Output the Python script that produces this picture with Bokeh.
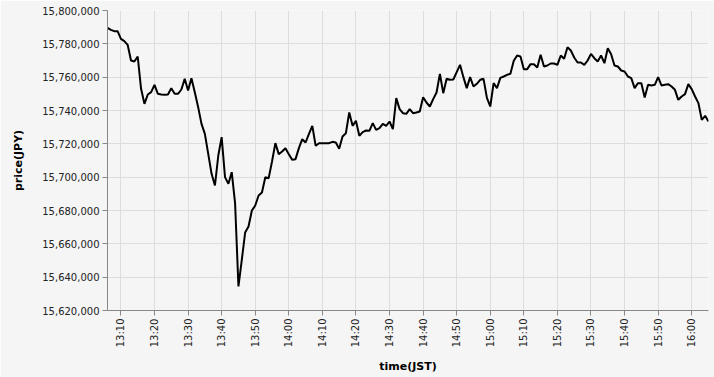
import math
import pandas as pd
from bokeh.plotting import figure
from bokeh.models import (ColumnDataSource, FixedTicker, DatetimeTickFormatter,
                          NumeralTickFormatter, Range1d)
from bokeh.embed import file_html
from bokeh.resources import INLINE

start_time = "2024-01-01 13:06"
prices = [
    15789600, 15788400, 15787600, 15787600, 15783000, 15781600, 15779400, 15770000, 15769400, 15772400,
    15753000, 15744000, 15749600, 15751000, 15755400, 15750000, 15749600, 15749400, 15749600, 15753400,
    15750000, 15750000, 15752600, 15759000, 15752000, 15759400, 15751000, 15742000, 15732000, 15726000,
    15714000, 15702000, 15695000, 15713000, 15724000, 15700000, 15696000, 15703000, 15684400, 15634400,
    15650400, 15666800, 15670400, 15680000, 15683000, 15689000, 15690800, 15700000, 15699400, 15709400,
    15720400, 15713800, 15715400, 15717400, 15713800, 15710400, 15710800, 15717400, 15722800, 15720800,
    15726000, 15730800, 15718800, 15720400, 15720400, 15720400, 15720400, 15721200, 15720800, 15717000,
    15724400, 15726400, 15738800, 15730800, 15733800, 15724800, 15727000, 15728000, 15727800, 15732400,
    15728400, 15729400, 15732000, 15730800, 15733400, 15728800, 15747400, 15740800, 15738400, 15738000,
    15740800, 15738400, 15738800, 15739400, 15748000, 15744800, 15742400, 15746800, 15750800, 15762000,
    15750400, 15759000, 15758400, 15758600, 15763000, 15767400, 15760000, 15753400, 15760000, 15754400,
    15756000, 15758400, 15759000, 15747600, 15742400, 15756400, 15753400, 15759600, 15760400, 15761400,
    15762000, 15769800, 15773000, 15772400, 15764800, 15764800, 15767800, 15767800, 15765800, 15773400,
    15766400, 15767000, 15768200, 15768200, 15767400, 15773000, 15771000, 15778000, 15776000, 15771800,
    15768800, 15768800, 15767400, 15770000, 15774000, 15771400, 15769400, 15773000, 15768400, 15777400,
    15773800, 15767000, 15766400, 15764000, 15763400, 15760400, 15759400, 15753400, 15756400, 15756400,
    15747800, 15755400, 15755000, 15755400, 15760000, 15755000, 15755400, 15755800, 15754400, 15752400,
    15746400, 15748400, 15749800, 15755800, 15752800, 15748400, 15744400, 15734400, 15736800, 15733400,
]
times = pd.date_range(start_time, periods=len(prices), freq="1min")
x_tick_labels = ["13:10", "13:20", "13:30", "13:40", "13:50", "14:00", "14:10", "14:20", "14:30",
                 "14:40", "14:50", "15:00", "15:10", "15:20", "15:30", "15:40", "15:50", "16:00"]
y_ticks = [15620000, 15640000, 15660000, 15680000, 15700000, 15720000, 15740000, 15760000, 15780000, 15800000]

src = ColumnDataSource(dict(t=times, price=prices))

BG = "#f5f5f5"
p = figure(width=714, height=377, output_backend="svg", toolbar_location=None,
           x_axis_type="datetime",
           min_border_left=107, min_border_right=6, min_border_top=10, min_border_bottom=67,
           background_fill_color=BG, border_fill_color=BG)
p.outline_line_color = None

p.x_range = Range1d(times[0], times[-1])
p.y_range = Range1d(y_ticks[0], y_ticks[-1])

p.line("t", "price", source=src, line_color="black", line_width=2)

day = "2024-01-01 "
tick_ms = [pd.Timestamp(day + s).value // 10**6 for s in x_tick_labels]
p.xaxis.ticker = FixedTicker(ticks=tick_ms)
p.xaxis.formatter = DatetimeTickFormatter(minutes="%H:%M", hourmin="%H:%M", hours="%H:%M")
p.xaxis.major_label_orientation = math.pi / 2
p.yaxis.ticker = FixedTicker(ticks=y_ticks)
p.yaxis.formatter = NumeralTickFormatter(format="0,0")

for ax in (p.xaxis[0], p.yaxis[0]):
    ax.axis_line_color = "#888888"
    ax.major_tick_line_color = "#888888"
    ax.major_tick_out = 5
    ax.major_tick_in = 0
    ax.minor_tick_line_color = None
    ax.major_label_text_font = "DejaVu Sans"
    ax.major_label_text_font_size = "10px"
    ax.major_label_text_color = "#222222"
    ax.axis_label_text_font = "DejaVu Sans"
    ax.axis_label_text_font_size = "11px"
    ax.axis_label_text_font_style = "bold"
    ax.axis_label_text_color = "#000000"
    ax.major_label_standoff = 3

p.xaxis.axis_label = "time(JST)"
p.yaxis.axis_label = "price(JPY)"
p.xaxis.axis_label_standoff = 10
p.yaxis.axis_label_standoff = 14

p.grid.grid_line_color = "#dddddd"
p.grid.grid_line_width = 1

open("out.html", "w").write(file_html(p, INLINE))
